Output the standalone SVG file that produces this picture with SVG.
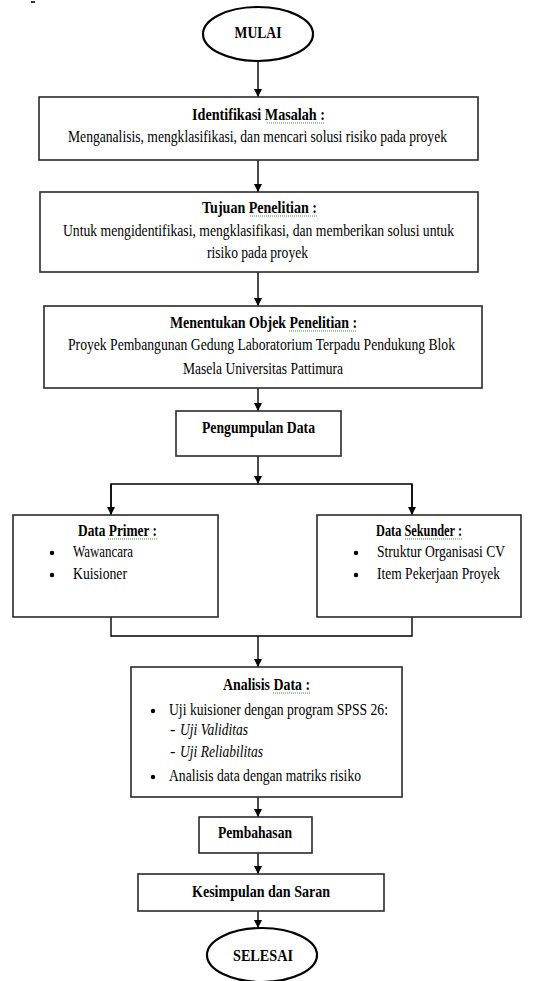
<svg xmlns="http://www.w3.org/2000/svg" width="546" height="981" viewBox="0 0 546 981" font-family="'Liberation Serif', 'Times New Roman', serif">
<defs>
<marker id="ah" markerUnits="userSpaceOnUse" markerWidth="8" markerHeight="8" refX="8" refY="4" orient="auto">
<path d="M0,0 L8,4 L0,8 z" fill="#000"/>
</marker>
<style>
.box{fill:#fff;stroke:#2a2a2a;stroke-width:1.6}
.ln{fill:none;stroke:#000;stroke-width:1.4}
.t{font-family:'Liberation Serif','Times New Roman',serif;font-size:16px;fill:#000}
.b{font-weight:bold}
.c{text-anchor:middle}
.i{font-style:italic}
.sq{fill:none;stroke:#3a9a3a;stroke-width:1;stroke-dasharray:1 1}
</style>
</defs>
<rect x="31" y="1" width="4" height="2" fill="#333"/>
<g id="connectors">
<line class="ln" x1="258" y1="61" x2="258" y2="97" marker-end="url(#ah)"/>
<line class="ln" x1="258" y1="160" x2="258" y2="192" marker-end="url(#ah)"/>
<line class="ln" x1="258" y1="272" x2="258" y2="306" marker-end="url(#ah)"/>
<line class="ln" x1="258" y1="388" x2="258" y2="411" marker-end="url(#ah)"/>
<line class="ln" x1="258" y1="456" x2="258" y2="484" marker-end="url(#ah)"/>
<polyline class="ln" points="111,515 111,484 412,484 412,515"/>
<line class="ln" x1="111" y1="484" x2="111" y2="515" marker-end="url(#ah)"/>
<line class="ln" x1="412" y1="484" x2="412" y2="515" marker-end="url(#ah)"/>
<polyline class="ln" points="111,617 111,636 412,636 412,617"/>
<line class="ln" x1="258" y1="636" x2="258" y2="667" marker-end="url(#ah)"/>
<line class="ln" x1="258" y1="797" x2="258" y2="817" marker-end="url(#ah)"/>
<line class="ln" x1="258" y1="853" x2="258" y2="874" marker-end="url(#ah)"/>
<line class="ln" x1="258" y1="911" x2="258" y2="928" marker-end="url(#ah)"/>
</g>
<g id="mulai">
<ellipse cx="258" cy="34" rx="55" ry="27" fill="#fff" stroke="#000" stroke-width="2.2"/>
<text class="t b c" x="258" y="38" textLength="47" lengthAdjust="spacingAndGlyphs">MULAI</text>
</g>
<g id="identifikasi">
<rect class="box" x="39" y="97" width="439" height="63"/>
<text class="t b" x="192" y="120" textLength="133" lengthAdjust="spacingAndGlyphs">Identifikasi Masalah :</text>
<path class="sq" d="M267,123 L325,123"/>
<text class="t" x="68" y="142" textLength="379" lengthAdjust="spacingAndGlyphs">Menganalisis, mengklasifikasi, dan mencari solusi risiko pada proyek</text>
</g>
<g id="tujuan">
<rect class="box" x="40" y="192" width="438" height="80"/>
<text class="t b" x="202" y="213" textLength="115" lengthAdjust="spacingAndGlyphs">Tujuan Penelitian :</text>
<path class="sq" d="M250,216 L317,216"/>
<text class="t" x="63" y="236" textLength="391" lengthAdjust="spacingAndGlyphs">Untuk mengidentifikasi, mengklasifikasi, dan memberikan solusi untuk</text>
<text class="t" x="207" y="258" textLength="101" lengthAdjust="spacingAndGlyphs">risiko pada proyek</text>
</g>
<g id="objek">
<rect class="box" x="44" y="306" width="438" height="82"/>
<text class="t b" x="170" y="328" textLength="187" lengthAdjust="spacingAndGlyphs">Menentukan Objek Penelitian :</text>
<path class="sq" d="M289,331 L357,331"/>
<text class="t" x="68" y="350" textLength="387" lengthAdjust="spacingAndGlyphs">Proyek Pembangunan Gedung Laboratorium  Terpadu Pendukung Blok</text>
<text class="t" x="183" y="374" textLength="160" lengthAdjust="spacingAndGlyphs">Masela Universitas Pattimura</text>
</g>
<g id="pengumpulan">
<rect class="box" x="176" y="411" width="165" height="45"/>
<text class="t b" x="202" y="433" textLength="113" lengthAdjust="spacingAndGlyphs">Pengumpulan Data</text>
</g>
<g id="primer">
<rect class="box" x="13" y="515" width="205" height="102"/>
<text class="t b" x="78" y="536" textLength="79" lengthAdjust="spacingAndGlyphs">Data Primer :</text>
<path class="sq" d="M108,539 L157,539"/>
<circle cx="52" cy="553" r="2.2"/>
<text class="t" x="73" y="557" textLength="60" lengthAdjust="spacingAndGlyphs">Wawancara</text>
<circle cx="52" cy="575" r="2.2"/>
<text class="t" x="73" y="579" textLength="54" lengthAdjust="spacingAndGlyphs">Kuisioner</text>
</g>
<g id="sekunder">
<rect class="box" x="317" y="515" width="204" height="102"/>
<text class="t b" x="376" y="536" textLength="86" lengthAdjust="spacingAndGlyphs">Data Sekunder :</text>
<path class="sq" d="M405,539 L462,539"/>
<circle cx="356" cy="553" r="2.2"/>
<text class="t" x="377" y="557" textLength="128" lengthAdjust="spacingAndGlyphs">Struktur Organisasi  CV</text>
<circle cx="356" cy="575" r="2.2"/>
<text class="t" x="377" y="579" textLength="123" lengthAdjust="spacingAndGlyphs">Item Pekerjaan  Proyek</text>
</g>
<g id="analisis">
<rect class="box" x="131" y="667" width="271" height="130"/>
<text class="t b" x="223" y="690" textLength="87" lengthAdjust="spacingAndGlyphs">Analisis Data :</text>
<path class="sq" d="M273,693 L310,693"/>
<circle cx="153" cy="711" r="2.2"/>
<text class="t" x="169" y="715" textLength="219" lengthAdjust="spacingAndGlyphs">Uji kuisioner dengan program  SPSS 26:</text>
<text class="t" x="170" y="735">-</text>
<text class="t i" x="180" y="735" textLength="68" lengthAdjust="spacingAndGlyphs">Uji Validitas</text>
<text class="t" x="170" y="757">-</text>
<text class="t i" x="180" y="757" textLength="83" lengthAdjust="spacingAndGlyphs">Uji Reliabilitas</text>
<circle cx="153" cy="777" r="2.2"/>
<text class="t" x="169" y="781" textLength="192" lengthAdjust="spacingAndGlyphs">Analisis data dengan  matriks risiko</text>
</g>
<g id="pembahasan">
<rect class="box" x="199" y="817" width="113" height="36"/>
<text class="t b" x="218" y="838" textLength="74" lengthAdjust="spacingAndGlyphs">Pembahasan</text>
</g>
<g id="kesimpulan">
<rect class="box" x="138" y="874" width="246" height="37"/>
<text class="t b" x="192" y="897" textLength="138" lengthAdjust="spacingAndGlyphs">Kesimpulan dan Saran</text>
</g>
<g id="selesai">
<ellipse cx="262" cy="955" rx="55" ry="27" fill="#fff" stroke="#000" stroke-width="2.2"/>
<text class="t b c" x="263" y="961" textLength="60" lengthAdjust="spacingAndGlyphs">SELESAI</text>
</g>
</svg>
